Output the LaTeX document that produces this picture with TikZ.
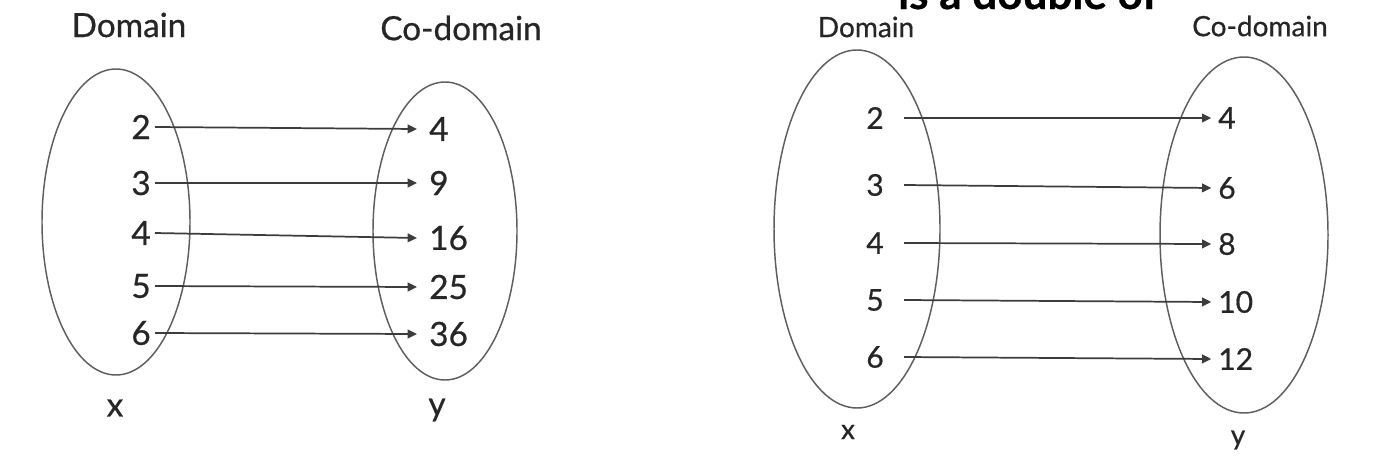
\documentclass[tikz,border=0pt]{standalone}
\usepackage{fontspec}
\setmainfont{Lato}[FakeBold=0.6]
\usetikzlibrary{arrows.meta}
\definecolor{txt}{HTML}{262626}
\definecolor{ell}{HTML}{5E5E5E}
\begin{document}
\begin{tikzpicture}[x=0.75pt,y=-0.75pt,
  lbl/.style={text=txt,inner sep=0pt},
  setell/.style={draw=ell,line width=1.1pt},
  arr/.style={draw=txt!90,line width=1.3pt,-{Triangle[length=7pt,width=6.5pt]}},
  numA/.style={lbl,font=\fontsize{25}{27}\selectfont},
  numB/.style={lbl,font=\fontsize{22.5}{24}\selectfont},
  headA/.style={lbl,font=\fontsize{25}{27}\selectfont},
  headB/.style={lbl,font=\fontsize{21}{23}\selectfont}]
\useasboundingbox (0,0) rectangle (1373,471);
\fill[white] (0,0) rectangle (1373,471);
% title cut off at the top
\node[lbl,font=\bfseries\fontsize{33}{35}\selectfont,text=black,anchor=base] (title) at (1028,9) {is a double of};
% ---------- left panel ----------
\node[headA] (domA) at (129,25) {Domain};
\node[headA] (codA) at (461,28) {Co-domain};
\draw[setell] (116,222) ellipse [x radius=74, y radius=153];
\draw[setell] (445,231) ellipse [x radius=72, y radius=149];
\foreach \n/\v/\y in {1/2/127,2/3/183,3/4/233,4/5/286,5/6/333}
  \node[numA,anchor=east] (a\n) at (151,\y) {\v};
\foreach \n/\v/\y in {1/4/129,2/9/183,3/16/238,4/25/287,5/36/334}
  \node[numA,anchor=west] (b\n) at (429,\y) {\v};
\foreach \n in {1,...,5}
  \draw[arr] ([xshift=3pt]a\n.east) -- ([xshift=-9pt]b\n.west);
\node[headA] (xA) at (115,408) {x};
\node[headA] (yA) at (437,410) {y};
% ---------- right panel ----------
\node[headB] (domB) at (866,27) {Domain};
\node[headB] (codB) at (1260,26) {Co-domain};
\draw[setell] (857,229) ellipse [x radius=83, y radius=179];
\draw[setell] (1244,235) ellipse [x radius=84, y radius=178];
\foreach \n/\v/\y in {1/2/118,2/3/185,3/4/243,4/5/300,5/6/357}
  \node[numB,anchor=east] (c\n) at (884,\y) {\v};
\foreach \n/\v/\y in {1/4/118,2/6/188,3/8/244,4/10/302,5/12/359}
  \node[numB,anchor=west] (d\n) at (1218,\y) {\v};
\foreach \n in {1,...,5}
  \draw[arr] ([xshift=15pt]c\n.east) -- ([xshift=-5pt]d\n.west);
\node[headB] (xB) at (848,432) {x};
\node[headB] (yB) at (1238,440) {y};
\end{tikzpicture}
\end{document}
